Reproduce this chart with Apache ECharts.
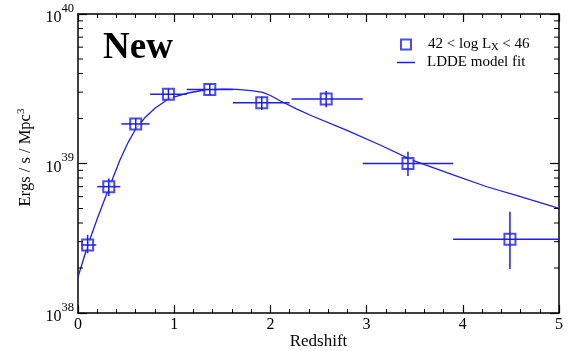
<!DOCTYPE html>
<html><head><meta charset="utf-8">
<script src="https://cdn.jsdelivr.net/npm/echarts@6/dist/echarts.min.js"></script>
<style>html,body{margin:0;padding:0;background:#fff}#c{width:569px;height:351px}</style>
</head><body><div id="c"></div>
<script>
// ---- data ----
const pointX     = [0.10, 0.32, 0.60, 0.94, 1.37, 1.91, 2.58, 3.43, 4.49];
const pointXLow  = [0.035, 0.20, 0.45, 0.75, 1.13, 1.61, 2.22, 2.96, 3.90];
const pointXHigh = [0.19, 0.44, 0.745, 1.13, 1.61, 2.20, 2.96, 3.90, 5.00];
const pointY     = [2.85e38, 7.0e38, 1.84e39, 2.9e39, 3.12e39, 2.55e39, 2.70e39, 1.0e39, 3.11e38];
const pointYLow  = [2.51e38, 6.07e38, 1.76e39, 2.8e39, 3.02e39, 2.28e39, 2.38e39, 8.24e38, 1.97e38];
const pointYHigh = [3.33e38, 7.94e38, 1.92e39, 3.0e39, 3.22e39, 2.80e39, 3.05e39, 1.20e39, 4.76e38];

const fitX = [0, 0.10, 0.20, 0.30, 0.435, 0.52, 0.60, 0.70, 0.80, 0.95, 1.13, 1.30, 1.50, 1.65, 1.80, 1.92, 2.00, 2.10, 2.27, 2.44, 2.79, 3.14, 3.48, 3.90, 4.25, 4.60, 5.00];
const fitY = [1.74e38, 2.82e38, 4.27e38, 6.31e38, 1.05e39, 1.38e39, 1.70e39, 2.04e39, 2.34e39, 2.73e39, 2.95e39, 3.09e39, 3.14e39, 3.13e39, 3.07e39, 2.99e39, 2.85e39, 2.63e39, 2.32e39, 2.07e39, 1.67e39, 1.33e39, 1.05e39, 8.38e38, 6.99e38, 6.0e38, 5.01e38];

const xRange = [0, 5];
const yRange = [1e38, 1e40];
const yMinorTicks = [2e38, 3e38, 4e38, 5e38, 6e38, 7e38, 8e38, 9e38, 2e39, 3e39, 4e39, 5e39, 6e39, 7e39, 8e39, 9e39];

const pointName = '42 < log L_X < 46';
const fitName = 'LDDE model fit';
const titleText = 'New';
const xName = 'Redshift';

// ---- styling ----
const BLUE = '#1e1ee6';
const FONT = '"Liberation Serif", "Times New Roman", serif';

const chart = echarts.init(document.getElementById('c'), null, {renderer: 'canvas'});

const pointData = pointX.map((x, i) => [x, pointY[i]]);
const errData = pointX.map((x, i) => [x, pointY[i], pointXLow[i], pointXHigh[i], pointYLow[i], pointYHigh[i]]);
const fitData = fitX.map((x, i) => [x, fitY[i]]);
const minorData = yMinorTicks.map(v => [xRange[0], v]);

const supLabel = v => '{b|10}{s|' + Math.round(Math.log10(v)) + '}';

function xAxisCfg(pos, showLabel) {
  return {
    type: 'value', min: xRange[0], max: xRange[1], interval: 1, position: pos,
    axisLine: {show: true, onZero: false, lineStyle: {color: '#000', width: 1.5}},
    axisTick: {show: true, inside: true, length: 8, lineStyle: {color: '#000', width: 1.2}},
    minorTick: {show: true, splitNumber: 5, length: 4, lineStyle: {color: '#000', width: 1}},
    splitLine: {show: false}, minorSplitLine: {show: false},
    axisLabel: {show: showLabel, fontFamily: FONT, fontSize: 16, color: '#000', margin: 4},
    name: showLabel ? xName : '', nameLocation: 'middle', nameGap: 20, nameMoveOverlap: false,
    nameTextStyle: {fontFamily: FONT, fontSize: 17, color: '#000', verticalAlign: 'top'}
  };
}
function yAxisCfg(pos, showLabel) {
  return {
    type: 'log', logBase: 10, min: yRange[0], max: yRange[1], position: pos, splitNumber: 2,
    axisLine: {show: true, onZero: false, lineStyle: {color: '#000', width: 1.5}},
    axisTick: {show: true, inside: true, length: 9, lineStyle: {color: '#000', width: 1.2}},
    splitLine: {show: false}, minorTick: {show: false},
    axisLabel: {
      show: showLabel, margin: 4, formatter: supLabel,
      rich: {
        b: {fontFamily: FONT, fontSize: 16, color: '#000', verticalAlign: 'bottom'},
        s: {fontFamily: FONT, fontSize: 12.5, color: '#000', verticalAlign: 'top', padding: [0, 0, 11, 0]}
      }
    },
    name: showLabel ? 'Ergs / s / Mpc{s|3}' : '', nameLocation: 'middle', nameGap: 42, nameRotate: 90,
    nameMoveOverlap: false,
    nameTextStyle: {
      fontFamily: FONT, fontSize: 16.5, color: '#000', padding: [0, 0, 0, 12],
      rich: {s: {fontFamily: FONT, fontSize: 11, color: '#000', verticalAlign: 'top', padding: [0, 0, 9, 0]}}
    }
  };
}

const option = {
  animation: false,
  backgroundColor: '#fff',
  grid: {left: 78, right: 10, top: 14, bottom: 38, containLabel: false, outerBoundsMode: 'none'},
  xAxis: [xAxisCfg('bottom', true), xAxisCfg('top', false)],
  yAxis: [yAxisCfg('left', true), yAxisCfg('right', false)],
  legend: [{
    orient: 'vertical', left: 400, top: 37, padding: 0, itemWidth: 10, itemHeight: 10,
    data: [pointName],
    formatter: () => '42 < log L{sub|X} < 46',
    textStyle: {
      fontFamily: FONT, fontSize: 15, color: '#000', padding: [0, 0, 0, 12],
      rich: {sub: {fontFamily: FONT, fontSize: 10.5, color: '#000', verticalAlign: 'bottom', padding: [6, 0, 0, 0]}}
    }
  }, {
    orient: 'vertical', left: 397, top: 55, padding: 0, itemWidth: 18, itemHeight: 1.5,
    data: [{name: fitName, icon: 'rect'}],
    textStyle: {fontFamily: FONT, fontSize: 15, color: '#000', padding: [0, 0, 0, 7]}
  }],
  graphic: [{
    type: 'text', left: 103, top: 30,
    style: {text: titleText, font: 'bold 37px ' + FONT, fill: '#000'}
  }],
  series: [
    {
      name: fitName, type: 'line', data: fitData, symbol: 'none', showSymbol: false,
      smooth: false, clip: true,
      lineStyle: {color: BLUE, width: 1.3}, itemStyle: {color: BLUE}, z: 2
    },
    {
      name: pointName, type: 'scatter', data: pointData, symbol: 'emptyRect', symbolSize: 11,
      itemStyle: {color: BLUE, borderColor: BLUE, borderWidth: 1.4}, z: 3
    },
    {
      type: 'custom', data: errData, z: 4, clip: false, silent: true,
      renderItem: (params, api) => {
        const x = api.value(0), y = api.value(1);
        const c = api.coord([x, y]);
        const l = api.coord([api.value(2), y]), r = api.coord([api.value(3), y]);
        const b = api.coord([x, api.value(4)]), t = api.coord([x, api.value(5)]);
        const st = {stroke: BLUE, lineWidth: 1.5};
        const h = 5.5;
        return {type: 'group', children: [
          {type: 'line', shape: {x1: l[0], y1: c[1], x2: r[0], y2: c[1]}, style: st},
          {type: 'line', shape: {x1: c[0], y1: Math.max(b[1], c[1] + h), x2: c[0], y2: Math.min(t[1], c[1] - h)}, style: st}
        ]};
      }
    },
    {
      type: 'custom', data: minorData, z: 5, clip: false, silent: true,
      renderItem: (params, api) => {
        const v = api.value(1);
        const pl = api.coord([xRange[0], v]), pr = api.coord([xRange[1], v]);
        const st = {stroke: '#000', lineWidth: 1};
        return {type: 'group', children: [
          {type: 'line', shape: {x1: pl[0], y1: pl[1], x2: pl[0] + 5, y2: pl[1]}, style: st},
          {type: 'line', shape: {x1: pr[0], y1: pr[1], x2: pr[0] - 5, y2: pr[1]}, style: st}
        ]};
      }
    }
  ]
};
chart.setOption(option);
</script>
</body></html>
